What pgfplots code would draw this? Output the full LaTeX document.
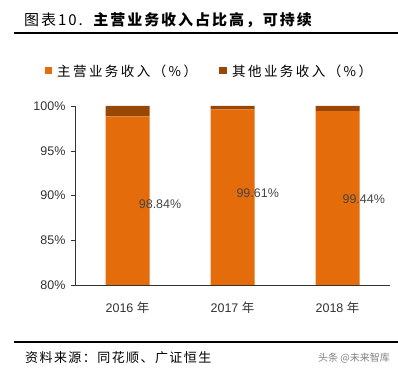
\documentclass[border=0pt]{standalone}
\usepackage{pgfplots}
\pgfplotsset{compat=1.18}
\usepackage{fontspec}
\setmainfont{Liberation Sans}
\newfontfamily\cjk{Noto Sans CJK SC}
\newfontfamily\cjktitle[LetterSpace=13]{Noto Sans CJK SC}
\newfontfamily\cjkleg[LetterSpace=18]{Noto Sans CJK SC}
\newfontfamily\cjksrc[LetterSpace=11]{Noto Sans CJK SC}
\definecolor{mainc}{RGB}{228,108,10}
\definecolor{otherc}{RGB}{151,72,6}
\definecolor{txt}{RGB}{50,50,50}
\definecolor{lbl}{RGB}{70,70,70}
\begin{document}
\begin{tikzpicture}
\begin{scope}[x=1pt,y=1pt]
\path[use as bounding box] (0,0) rectangle (398,371);
\node[anchor=west, inner sep=0, font=\cjktitle\fontsize{15}{15}\selectfont] at (24,351) {图表10.\ \ \textbf{主营业务收入占比高，可持续}};
\draw[line width=2.2pt] (14,338) -- (398,338);
\fill[mainc] (45,296.5) rectangle (52,303.5);
\node[anchor=west, inner sep=0, font=\cjkleg\fontsize{13.5}{13.5}\selectfont] at (57,300) {主营业务收入（\%）};
\fill[otherc] (219,296.5) rectangle (227,303.5);
\node[anchor=west, inner sep=0, font=\cjkleg\fontsize{13.5}{13.5}\selectfont] at (232,300) {其他业务收入（\%）};
\draw[line width=2.5pt] (14,29) -- (398,29);
\node[anchor=west, inner sep=0, font=\cjksrc\fontsize{13}{13}\selectfont] at (25,13) {资料来源：同花顺、广证恒生};
\node[anchor=east, inner sep=0, text=gray, font=\cjk\fontsize{10}{10}\selectfont] at (390,13) {头条 @未来智库};
\end{scope}
\begin{axis}[
  at={(75pt,86pt)}, anchor=south west,
  scale only axis, width=315pt, height=179pt,
  ybar stacked, bar width=44pt,
  xmin=-0.5, xmax=2.5, ymin=80, ymax=100,
  axis x line*=bottom, axis y line*=left,
  axis line style={-, draw=black!80},
  ytick={80,85,90,95,100},
  /pgf/number format/assume math mode=true,
  yticklabel={\pgfmathprintnumber{\tick}\%},
  yticklabel style={font=\fontsize{12.5}{12.5}\selectfont, text=txt, xshift=-2pt},
  xtick={0,1,2},
  xticklabels={{2016 {\cjk 年}},{2017 {\cjk 年}},{2018 {\cjk 年}}},
  xticklabel style={font=\fontsize{12.5}{12.5}\selectfont, text=txt, yshift=-9pt},
  x tick style={draw=none},
  extra x ticks={-0.5,0.5,1.5,2.5},
  extra x tick labels={},
  extra x tick style={tick style={draw=black!80}, major tick length=4pt},
  tick align=outside,
  major tick length=4pt,
  y tick style={draw=black!80},
]
\addplot[fill=mainc, draw=none] coordinates {(0,98.84) (1,99.61) (2,99.44)};
\addplot[fill=otherc, draw=none] coordinates {(0,1.16) (1,0.39) (2,0.56)};
\coordinate (l1) at (axis cs:0.31,89.05);
\coordinate (l2) at (axis cs:1.24,90.3);
\coordinate (l3) at (axis cs:2.25,89.6);
\end{axis}
\node[font=\fontsize{12.5}{12.5}\selectfont, text=lbl] at (l1) {98.84\%};
\node[font=\fontsize{12.5}{12.5}\selectfont, text=lbl] at (l2) {99.61\%};
\node[font=\fontsize{12.5}{12.5}\selectfont, text=lbl] at (l3) {99.44\%};
\end{tikzpicture}
\end{document}
